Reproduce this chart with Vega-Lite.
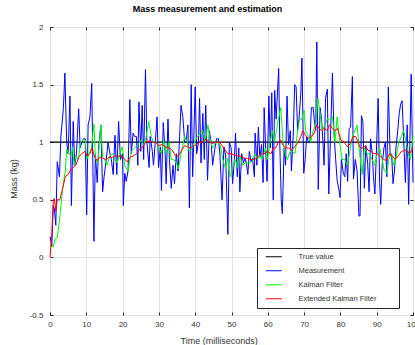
{
  "$schema": "https://vega.github.io/schema/vega-lite/v6.json",
  "width": 363,
  "height": 288,
  "autosize": "none",
  "padding": {"left": 50, "top": 27, "right": 2, "bottom": 30},
  "background": "white",
  "config": {
    "font": "Liberation Sans",
    "view": {"stroke": "#262626", "strokeWidth": 1},
    "axis": {
      "grid": true,
      "gridColor": "#e3e3e3",
      "gridWidth": 1,
      "domain": false,
      "tickColor": "#262626",
      "tickSize": -3,
      "labelFlush": false,
      "labelFont": "Liberation Sans",
      "labelFontSize": 8,
      "labelColor": "#333333",
      "labelExpr": "'' + datum.value",
      "titleFont": "Liberation Sans",
      "titleFontSize": 9,
      "titleFontWeight": "normal",
      "titleColor": "#333333"
    },
    "legend": {
      "orient": "none",
      "legendX": 207,
      "legendY": 221,
      "strokeColor": "#262626",
      "fillColor": "white",
      "padding": 5,
      "symbolType": "M0,0H8",
      "symbolSize": 16,
      "symbolStrokeWidth": 1,
      "labelFont": "Liberation Sans",
      "labelFontSize": 7.5,
      "labelColor": "#333333",
      "rowPadding": 5,
      "labelOffset": 29,
      "titleOrient": "right",
      "titlePadding": 18,
      "titleFontSize": 7.5
    }
  },
  "title": {
    "text": "Mass measurement and estimation",
    "font": "Liberation Sans",
    "fontSize": 9,
    "fontWeight": "bold",
    "color": "#000000",
    "anchor": "middle",
    "dx": -24,
    "offset": 9
  },
  "datasets": {
    "truth": [{"t": 0, "v": 1}, {"t": 100, "v": 1}],
    "meas": [
      {"t":0,"v":0.18},{"t":0.5,"v":0.1},{"t":0.9,"v":0.45},{"t":1.2,"v":0.42},{"t":1.6,"v":0.28},{"t":2.0,"v":0.83},{"t":2.6,"v":0.7},{"t":3.0,"v":1.05},{"t":3.7,"v":1.3},{"t":4.1,"v":1.6},
      {"t":4.6,"v":1.0},{"t":5.0,"v":0.9},{"t":5.5,"v":1.4},{"t":5.9,"v":0.45},{"t":6.4,"v":1.18},{"t":6.8,"v":0.8},{"t":7.3,"v":0.9},{"t":7.9,"v":1.29},{"t":8.3,"v":0.95},{"t":8.8,"v":1.0},
      {"t":9.2,"v":1.03},{"t":9.7,"v":1.03},{"t":10.1,"v":0.37},{"t":10.5,"v":1.15},{"t":11.0,"v":1.22},{"t":11.5,"v":1.51},{"t":12.1,"v":0.14},{"t":12.5,"v":0.9},{"t":13.0,"v":0.65},{"t":13.4,"v":0.95},
      {"t":14.0,"v":1.15},{"t":14.5,"v":0.57},{"t":14.9,"v":0.7},{"t":15.5,"v":0.85},{"t":16.0,"v":1.0},{"t":16.5,"v":0.9},{"t":16.9,"v":0.85},{"t":17.4,"v":0.72},{"t":17.9,"v":1.06},{"t":18.4,"v":0.72},
      {"t":18.9,"v":1.18},{"t":19.4,"v":0.85},{"t":20.0,"v":0.9},{"t":20.2,"v":0.45},{"t":20.6,"v":0.73},{"t":21.0,"v":0.66},{"t":21.5,"v":0.75},{"t":22.0,"v":1.37},{"t":22.4,"v":0.9},{"t":22.9,"v":1.08},
      {"t":23.3,"v":1.05},{"t":23.8,"v":1.05},{"t":24.2,"v":0.8},{"t":24.5,"v":1.35},{"t":25.0,"v":0.92},{"t":25.4,"v":1.32},{"t":25.8,"v":0.85},{"t":26.3,"v":1.63},{"t":26.7,"v":1.0},{"t":27.3,"v":0.78},
      {"t":27.6,"v":1.05},{"t":28.2,"v":0.92},{"t":28.5,"v":0.8},{"t":29.0,"v":1.0},{"t":29.5,"v":1.22},{"t":29.9,"v":0.78},{"t":30.4,"v":0.96},{"t":30.7,"v":0.58},{"t":31.2,"v":1.17},{"t":31.7,"v":0.92},
      {"t":32.0,"v":0.64},{"t":32.5,"v":1.2},{"t":32.9,"v":0.85},{"t":33.4,"v":0.6},{"t":33.9,"v":0.8},{"t":34.3,"v":0.64},{"t":34.8,"v":0.9},{"t":35.3,"v":0.75},{"t":35.7,"v":1.05},{"t":36.1,"v":1.32},
      {"t":36.6,"v":1.22},{"t":37.1,"v":1.0},{"t":37.5,"v":1.0},{"t":38.0,"v":1.15},{"t":38.4,"v":0.43},{"t":38.9,"v":1.5},{"t":39.3,"v":0.7},{"t":40.0,"v":1.48},{"t":40.4,"v":0.9},{"t":40.9,"v":1.0},
      {"t":41.2,"v":1.38},{"t":41.6,"v":0.82},{"t":42.1,"v":1.25},{"t":42.5,"v":0.85},{"t":42.9,"v":1.32},{"t":43.4,"v":0.67},{"t":43.9,"v":1.1},{"t":44.4,"v":1.0},{"t":44.8,"v":0.8},{"t":45.4,"v":0.94},
      {"t":45.9,"v":1.03},{"t":46.4,"v":1.03},{"t":46.8,"v":0.9},{"t":47.4,"v":0.5},{"t":47.9,"v":0.96},{"t":48.4,"v":0.88},{"t":49.0,"v":0.2},{"t":49.4,"v":1.0},{"t":49.9,"v":0.95},{"t":50.3,"v":0.64},
      {"t":50.8,"v":0.85},{"t":51.1,"v":1.08},{"t":51.6,"v":0.7},{"t":52.0,"v":0.95},{"t":52.3,"v":0.57},{"t":52.8,"v":0.9},{"t":53.3,"v":0.82},{"t":53.7,"v":0.86},{"t":54.1,"v":0.82},{"t":54.5,"v":0.72},
      {"t":54.9,"v":0.92},{"t":55.4,"v":0.83},{"t":55.8,"v":0.86},{"t":56.3,"v":0.7},{"t":56.5,"v":1.08},{"t":57.0,"v":0.8},{"t":57.4,"v":1.13},{"t":57.8,"v":0.87},{"t":58.3,"v":0.98},{"t":58.7,"v":0.65},
      {"t":59.0,"v":1.3},{"t":59.5,"v":0.87},{"t":59.8,"v":0.66},{"t":60.3,"v":1.4},{"t":60.7,"v":0.95},{"t":61.1,"v":1.43},{"t":61.5,"v":0.5},{"t":61.9,"v":1.45},{"t":62.3,"v":1.2},{"t":63.0,"v":1.64},
      {"t":63.3,"v":1.0},{"t":63.7,"v":0.5},{"t":64.0,"v":0.38},{"t":64.5,"v":0.95},{"t":64.9,"v":0.8},{"t":65.3,"v":1.4},{"t":65.7,"v":0.98},{"t":66.2,"v":1.1},{"t":66.5,"v":0.75},{"t":67.0,"v":1.05},
      {"t":67.4,"v":1.5},{"t":67.8,"v":1.48},{"t":68.2,"v":1.1},{"t":68.6,"v":1.2},{"t":69.1,"v":1.43},{"t":69.4,"v":1.73},{"t":69.9,"v":0.73},{"t":70.3,"v":0.85},{"t":70.7,"v":1.05},{"t":71.2,"v":1.0},
      {"t":71.6,"v":1.0},{"t":72.0,"v":1.3},{"t":72.5,"v":1.3},{"t":72.8,"v":1.2},{"t":73.2,"v":1.1},{"t":73.5,"v":1.87},{"t":73.9,"v":0.59},{"t":74.4,"v":1.3},{"t":74.8,"v":1.2},{"t":75.2,"v":1.0},
      {"t":75.5,"v":0.8},{"t":75.9,"v":1.38},{"t":76.4,"v":1.46},{"t":76.8,"v":0.55},{"t":77.3,"v":1.08},{"t":77.8,"v":1.6},{"t":78.2,"v":1.1},{"t":78.7,"v":0.85},{"t":79.1,"v":0.67},{"t":79.5,"v":0.6},
      {"t":79.9,"v":0.52},{"t":80.3,"v":0.85},{"t":80.8,"v":0.73},{"t":81.2,"v":0.7},{"t":81.6,"v":0.9},{"t":82.0,"v":0.66},{"t":82.4,"v":1.12},{"t":82.8,"v":1.13},{"t":83.3,"v":1.57},{"t":83.6,"v":0.68},
      {"t":84.1,"v":0.85},{"t":84.6,"v":0.75},{"t":85.1,"v":0.36},{"t":85.4,"v":0.36},{"t":85.8,"v":1.23},{"t":86.2,"v":1.18},{"t":86.6,"v":0.6},{"t":87.0,"v":0.97},{"t":87.5,"v":0.82},{"t":87.9,"v":0.57},
      {"t":88.3,"v":1.03},{"t":88.8,"v":0.9},{"t":89.1,"v":0.7},{"t":89.5,"v":0.55},{"t":89.9,"v":0.9},{"t":90.4,"v":1.38},{"t":90.8,"v":0.65},{"t":91.1,"v":0.46},{"t":91.5,"v":0.8},{"t":92.0,"v":0.95},
      {"t":92.4,"v":1.0},{"t":92.8,"v":0.7},{"t":93.2,"v":1.48},{"t":93.7,"v":0.88},{"t":94.1,"v":0.9},{"t":94.5,"v":0.64},{"t":94.9,"v":0.75},{"t":95.3,"v":0.95},{"t":95.8,"v":1.1},{"t":96.2,"v":1.25},
      {"t":96.6,"v":1.33},{"t":97.0,"v":1.36},{"t":97.4,"v":1.05},{"t":97.9,"v":0.65},{"t":98.4,"v":1.15},{"t":98.8,"v":0.46},{"t":99.5,"v":1.59},{"t":100,"v":0.65}
    ],
    "kf": [
      {"t":0,"v":0.1},{"t":0.9,"v":0.09},{"t":1.4,"v":0.16},{"t":2.0,"v":0.17},{"t":2.7,"v":0.35},{"t":3.5,"v":0.6},{"t":4.2,"v":0.75},{"t":4.6,"v":0.94},{"t":5.3,"v":0.9},{"t":5.8,"v":0.88},
      {"t":6.2,"v":0.96},{"t":6.6,"v":0.8},{"t":7.1,"v":0.88},{"t":7.8,"v":0.85},{"t":8.4,"v":1.0},{"t":9.1,"v":1.02},{"t":9.7,"v":1.02},{"t":10.1,"v":0.85},{"t":10.8,"v":0.9},{"t":11.4,"v":0.95},
      {"t":12.1,"v":1.16},{"t":12.5,"v":0.86},{"t":13.2,"v":0.82},{"t":14.0,"v":1.15},{"t":14.5,"v":0.87},{"t":15.1,"v":0.85},{"t":15.7,"v":0.8},{"t":16.5,"v":0.88},{"t":17.2,"v":0.9},{"t":17.8,"v":0.87},
      {"t":18.5,"v":0.82},{"t":19.2,"v":0.9},{"t":19.9,"v":0.96},{"t":20.6,"v":0.8},{"t":21.5,"v":0.75},{"t":22.4,"v":0.92},{"t":23.3,"v":0.95},{"t":24.2,"v":0.98},{"t":25.2,"v":1.02},{"t":25.8,"v":0.97},
      {"t":26.5,"v":1.05},{"t":27.2,"v":1.18},{"t":27.9,"v":1.05},{"t":28.5,"v":1.0},{"t":29.3,"v":1.0},{"t":30.0,"v":0.95},{"t":30.7,"v":0.9},{"t":31.3,"v":1.02},{"t":32.0,"v":0.9},{"t":32.8,"v":1.0},
      {"t":33.4,"v":0.85},{"t":34.0,"v":0.85},{"t":34.8,"v":0.82},{"t":35.4,"v":0.77},{"t":36.1,"v":0.9},{"t":37.1,"v":1.05},{"t":37.8,"v":1.0},{"t":38.4,"v":0.92},{"t":39.2,"v":0.95},{"t":40.0,"v":1.02},
      {"t":40.7,"v":1.05},{"t":41.4,"v":1.08},{"t":42.1,"v":1.1},{"t":42.7,"v":1.0},{"t":43.5,"v":1.15},{"t":44.1,"v":1.02},{"t":44.8,"v":0.95},{"t":45.6,"v":1.0},{"t":46.2,"v":1.0},{"t":46.9,"v":0.97},
      {"t":47.6,"v":0.85},{"t":48.3,"v":0.78},{"t":49.0,"v":0.86},{"t":49.6,"v":0.7},{"t":50.3,"v":0.78},{"t":51.0,"v":0.85},{"t":51.7,"v":0.78},{"t":52.3,"v":0.88},{"t":53.1,"v":0.8},{"t":53.8,"v":0.82},
      {"t":54.4,"v":0.82},{"t":55.1,"v":0.82},{"t":55.8,"v":0.84},{"t":56.5,"v":0.9},{"t":57.2,"v":0.85},{"t":57.8,"v":0.88},{"t":58.6,"v":0.85},{"t":59.3,"v":0.95},{"t":59.9,"v":0.85},{"t":60.6,"v":1.0},
      {"t":61.3,"v":1.1},{"t":61.8,"v":1.0},{"t":62.4,"v":1.1},{"t":62.9,"v":1.2},{"t":63.6,"v":1.3},{"t":64.2,"v":1.0},{"t":64.8,"v":0.9},{"t":65.4,"v":0.85},{"t":66.1,"v":0.92},{"t":66.8,"v":0.92},
      {"t":67.5,"v":0.9},{"t":68.2,"v":1.1},{"t":68.8,"v":1.2},{"t":69.4,"v":1.2},{"t":70.0,"v":1.28},{"t":70.4,"v":1.1},{"t":71.2,"v":1.05},{"t":71.8,"v":1.0},{"t":72.5,"v":1.1},{"t":73.2,"v":1.15},
      {"t":73.8,"v":1.38},{"t":74.4,"v":1.25},{"t":75.0,"v":1.1},{"t":75.7,"v":1.15},{"t":76.4,"v":1.2},{"t":77.0,"v":1.2},{"t":77.8,"v":1.22},{"t":78.5,"v":1.0},{"t":79.1,"v":1.22},{"t":79.8,"v":1.0},
      {"t":80.5,"v":0.85},{"t":81.2,"v":0.85},{"t":81.9,"v":0.8},{"t":82.5,"v":0.9},{"t":83.3,"v":1.05},{"t":84.0,"v":1.1},{"t":84.6,"v":1.15},{"t":85.3,"v":0.9},{"t":86.0,"v":0.72},{"t":86.6,"v":0.95},
      {"t":87.4,"v":0.9},{"t":88.0,"v":0.9},{"t":88.7,"v":0.85},{"t":89.5,"v":0.8},{"t":90.1,"v":0.9},{"t":90.8,"v":0.95},{"t":91.5,"v":0.85},{"t":92.1,"v":0.75},{"t":92.8,"v":0.73},{"t":93.3,"v":0.85},
      {"t":94.1,"v":0.9},{"t":94.7,"v":0.8},{"t":95.3,"v":0.86},{"t":96.1,"v":1.0},{"t":96.8,"v":1.05},{"t":97.4,"v":1.1},{"t":98.1,"v":1.0},{"t":98.7,"v":0.9},{"t":99.3,"v":0.85},{"t":100,"v":1.05}
    ],
    "ekf": [
      {"t":0,"v":0.0},{"t":0.5,"v":0.2},{"t":0.9,"v":0.5},{"t":1.2,"v":0.51},{"t":1.6,"v":0.4},{"t":2.0,"v":0.5},{"t":2.7,"v":0.5},{"t":3.5,"v":0.6},{"t":4.2,"v":0.7},{"t":5.0,"v":0.72},
      {"t":5.7,"v":0.76},{"t":6.4,"v":0.78},{"t":7.1,"v":0.8},{"t":7.9,"v":0.87},{"t":8.7,"v":0.9},{"t":9.6,"v":0.92},{"t":10.2,"v":0.88},{"t":11.0,"v":0.9},{"t":11.6,"v":0.95},{"t":12.3,"v":0.87},
      {"t":13.0,"v":0.84},{"t":13.7,"v":0.87},{"t":14.5,"v":0.86},{"t":15.4,"v":0.85},{"t":16.3,"v":0.87},{"t":17.2,"v":0.87},{"t":18.1,"v":0.88},{"t":19.0,"v":0.88},{"t":19.8,"v":0.88},{"t":20.6,"v":0.85},
      {"t":21.3,"v":0.83},{"t":22.1,"v":0.87},{"t":22.9,"v":0.88},{"t":23.8,"v":0.9},{"t":24.7,"v":0.94},{"t":25.6,"v":0.96},{"t":26.3,"v":1.0},{"t":27.3,"v":1.01},{"t":28.2,"v":1.0},{"t":29.1,"v":1.0},
      {"t":30.0,"v":0.97},{"t":30.9,"v":0.98},{"t":31.8,"v":0.96},{"t":32.8,"v":0.95},{"t":33.7,"v":0.93},{"t":34.6,"v":0.88},{"t":35.3,"v":0.88},{"t":36.1,"v":0.92},{"t":37.1,"v":0.97},{"t":37.8,"v":0.96},
      {"t":38.6,"v":0.95},{"t":39.3,"v":0.96},{"t":40.3,"v":0.98},{"t":41.2,"v":1.0},{"t":42.1,"v":1.0},{"t":43.0,"v":1.03},{"t":43.9,"v":1.0},{"t":44.8,"v":0.99},{"t":45.7,"v":1.0},{"t":46.7,"v":1.0},
      {"t":47.6,"v":0.96},{"t":48.3,"v":0.93},{"t":49.0,"v":0.9},{"t":49.9,"v":0.9},{"t":50.8,"v":0.89},{"t":51.7,"v":0.88},{"t":52.6,"v":0.88},{"t":53.5,"v":0.86},{"t":54.4,"v":0.86},{"t":55.4,"v":0.85},
      {"t":56.3,"v":0.85},{"t":57.2,"v":0.87},{"t":58.1,"v":0.9},{"t":59.0,"v":0.9},{"t":59.9,"v":0.92},{"t":60.9,"v":0.9},{"t":61.5,"v":0.95},{"t":62.2,"v":0.95},{"t":62.9,"v":1.0},{"t":63.6,"v":1.02},
      {"t":64.2,"v":0.97},{"t":65.0,"v":0.95},{"t":65.7,"v":0.95},{"t":66.6,"v":0.93},{"t":67.6,"v":0.97},{"t":68.4,"v":1.0},{"t":69.1,"v":1.05},{"t":69.7,"v":1.1},{"t":70.4,"v":1.06},{"t":71.2,"v":1.03},
      {"t":71.9,"v":1.05},{"t":72.7,"v":1.07},{"t":73.5,"v":1.15},{"t":74.1,"v":1.12},{"t":74.8,"v":1.1},{"t":75.6,"v":1.12},{"t":76.4,"v":1.1},{"t":77.0,"v":1.15},{"t":77.8,"v":1.12},{"t":78.5,"v":1.1},
      {"t":79.2,"v":1.12},{"t":80.1,"v":1.02},{"t":81.0,"v":1.0},{"t":81.9,"v":0.96},{"t":82.8,"v":0.99},{"t":83.5,"v":1.05},{"t":84.2,"v":1.05},{"t":84.9,"v":1.0},{"t":85.5,"v":0.95},{"t":86.3,"v":0.95},
      {"t":86.9,"v":0.97},{"t":87.6,"v":0.93},{"t":88.4,"v":0.92},{"t":89.2,"v":0.9},{"t":90.1,"v":0.9},{"t":91.0,"v":0.88},{"t":91.9,"v":0.85},{"t":92.7,"v":0.84},{"t":93.5,"v":0.9},{"t":94.3,"v":0.88},
      {"t":95.1,"v":0.85},{"t":95.9,"v":0.88},{"t":96.8,"v":0.92},{"t":97.7,"v":0.93},{"t":98.3,"v":0.93},{"t":99.0,"v":0.9},{"t":100,"v":0.95}
    ]
  },
  "layer": [
    {
      "data": {"name": "truth"},
      "mark": {"type": "line", "strokeWidth": 1.2},
      "encoding": {
        "x": {"field": "t", "type": "quantitative", "scale": {"domain": [0, 100], "nice": false},
              "axis": {"orient": "bottom", "values": [0,10,20,30,40,50,60,70,80,90,100], "title": "Time (milliseconds)", "labelPadding": 8, "titleX": 168.7, "titleY": 28, "titleBaseline": "alphabetic", "titleAnchor": null}},
        "y": {"field": "v", "type": "quantitative", "scale": {"domain": [-0.5, 2], "nice": false},
              "axis": {"orient": "left", "values": [-0.5,0,0.5,1,1.5,2], "title": "Mass (kg)", "labelPadding": 10, "titleX": -37, "titleY": 151.5, "titleBaseline": "middle", "titleAngle": -90}},
        "color": {"datum": "True value", "type": "nominal",
                  "scale": {"domain": ["True value", "Measurement", "Kalman Filter", "Extended Kalman Filter"], "range": ["#000000", "#0000ff", "#00ff00", "#ff0000"]},
                  "legend": {"title": " "}}
      }
    },
    {
      "data": {"name": "meas"},
      "mark": {"type": "line", "strokeWidth": 1},
      "encoding": {
        "x": {"field": "t", "type": "quantitative", "axis": {"orient": "top", "values": [0,10,20,30,40,50,60,70,80,90,100], "labels": false, "grid": false, "title": null}},
        "y": {"field": "v", "type": "quantitative", "axis": {"orient": "right", "values": [-0.5,0,0.5,1,1.5,2], "labels": false, "grid": false, "title": null}},
        "color": {"datum": "Measurement", "type": "nominal"}
      }
    },
    {
      "data": {"name": "kf"},
      "mark": {"type": "line", "strokeWidth": 1},
      "encoding": {
        "x": {"field": "t", "type": "quantitative", "axis": null},
        "y": {"field": "v", "type": "quantitative", "axis": null},
        "color": {"datum": "Kalman Filter", "type": "nominal"}
      }
    },
    {
      "data": {"name": "ekf"},
      "mark": {"type": "line", "strokeWidth": 1},
      "encoding": {
        "x": {"field": "t", "type": "quantitative", "axis": null},
        "y": {"field": "v", "type": "quantitative", "axis": null},
        "color": {"datum": "Extended Kalman Filter", "type": "nominal"}
      }
    }
  ],
  "resolve": {"axis": {"x": "independent", "y": "independent"}}
}
